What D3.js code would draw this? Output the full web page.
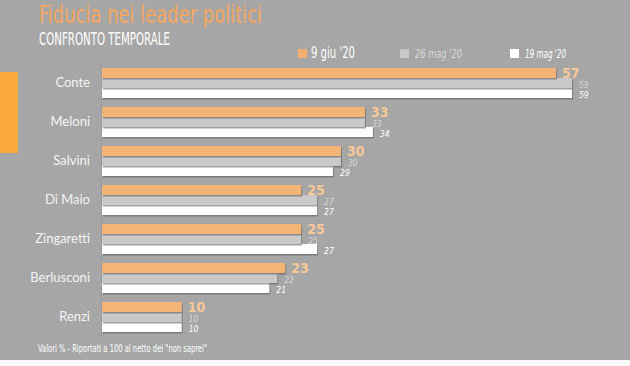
<!DOCTYPE html>
<html>
<head>
<meta charset="utf-8">
<script src="https://cdn.jsdelivr.net/npm/d3@7"></script>
<style>
  body { margin: 0; background: #a6a6a6; }
  svg { display: block; }
  .narrow { font-family: "Liberation Sans Narrow", "DejaVu Sans Condensed", sans-serif; }
</style>
</head>
<body>
<div id="chart"></div>
<script>
const categories = ["Conte", "Meloni", "Salvini", "Di Maio", "Zingaretti", "Berlusconi", "Renzi"];
const giu9 = [57, 33, 30, 25, 25, 23, 10];
const mag26 = [59, 33, 30, 27, 25, 22, 10];
const mag19 = [59, 34, 29, 27, 27, 21, 10];
const seriesNames = ["9 giu '20", "26 mag '20", "19 mag '20"];

const width = 630, height = 366;

const svg = d3.select("#chart").append("svg")
    .attr("width", width)
    .attr("height", height);

svg.append("rect").attr("width", width).attr("height", height).attr("fill", "#a6a6a6");
svg.append("rect").attr("x", 0).attr("y", 360).attr("width", width).attr("height", 6).attr("fill", "#f9f9f9");

// orange accent on the left
svg.append("rect").attr("x", 0).attr("y", 72).attr("width", 18).attr("height", 81).attr("fill", "#f9a93b");

let defs = svg.append("defs");
let f = defs.append("filter").attr("id", "shadow").attr("x", "-5%").attr("y", "-30%").attr("width", "110%").attr("height", "180%");
f.append("feDropShadow").attr("dx", 1).attr("dy", 1.5).attr("stdDeviation", 0.6)
    .attr("flood-color", "#555").attr("flood-opacity", 0.55);

// titles
svg.append("text").attr("class", "narrow")
    .attr("x", 39).attr("y", 23)
    .attr("textLength", 223).attr("lengthAdjust", "spacingAndGlyphs")
    .style("font-size", "24px").attr("fill", "#f5a65e")
    .text("Fiducia nei leader politici");

svg.append("text").attr("class", "narrow")
    .attr("x", 39).attr("y", 45)
    .attr("textLength", 131).attr("lengthAdjust", "spacingAndGlyphs")
    .style("font-size", "17px").attr("fill", "#ffffff")
    .text("CONFRONTO TEMPORALE");

let x = d3.scaleLinear().domain([0, 59]).range([102, 572]);
let y = d3.scaleBand().domain(categories).range([68, 332]).paddingInner(9 / 39);
let ySub = d3.scaleBand().domain([0, 1, 2]).range([0, y.bandwidth()]);

const colors = ["#f4b478", "#c9c9c9", "#ffffff"];
const labelColors = ["#f7c896", "#d6d6d6", "#ffffff"];

// faint axis line
svg.append("line")
    .attr("x1", 101.5).attr("x2", 101.5)
    .attr("y1", 64).attr("y2", 338)
    .attr("stroke", "#9a9a9a").attr("stroke-width", 1);

// category labels
let yAxis = d3.axisLeft(y).tickSize(0).tickPadding(0);
let ya = svg.append("g").attr("transform", "translate(90,0)").call(yAxis);
ya.select(".domain").remove();
ya.selectAll("text")
    .style("font-family", "Lato, sans-serif")
    .style("font-size", "13px")
    .attr("fill", "#f4f4f4");

const series = [giu9, mag26, mag19];
// draw back to front so the upper bar's shadow sits on the lower bar
for (let s = 2; s >= 0; s--) {
    svg.append("g").selectAll("rect")
        .data(series[s])
        .enter()
        .append("rect")
        .attr("x", x(0))
        .attr("y", (d, i) => y(categories[i]) + ySub(s))
        .attr("width", d => x(d) - x(0))
        .attr("height", ySub.bandwidth())
        .attr("fill", colors[s])
        .attr("filter", "url(#shadow)");
}

// value labels
svg.append("g").selectAll("text")
    .data(giu9)
    .enter()
    .append("text")
    .attr("class", "narrow")
    .attr("x", d => x(d) + 6)
    .attr("y", (d, i) => y(categories[i]) + ySub(0) + 9.5)
    .style("font-size", "14px")
    .style("font-weight", "bold")
    .attr("fill", labelColors[0])
    .text(d => d);

[mag26, mag19].forEach((vals, k) => {
    let s = k + 1;
    svg.append("g").selectAll("text")
        .data(vals)
        .enter()
        .append("text")
        .attr("class", "narrow")
        .attr("x", d => x(d) + 7)
        .attr("y", (d, i) => y(categories[i]) + ySub(s) + 9.5)
        .style("font-size", "8.5px")
        .style("font-style", "italic")
        .attr("fill", labelColors[s])
        .text(d => d);
});

// legend
const legendX = [298, 400, 510];
const legendTextLen = [44, 47, 41];
let legend = svg.append("g");
seriesNames.forEach((name, i) => {
    legend.append("rect")
        .attr("x", legendX[i]).attr("y", 49)
        .attr("width", 9).attr("height", 9)
        .attr("fill", i === 0 ? "#f4b070" : colors[i]);
    legend.append("text")
        .attr("class", "narrow")
        .attr("x", legendX[i] + (i === 0 ? 13 : 15))
        .attr("y", 58)
        .attr("textLength", legendTextLen[i]).attr("lengthAdjust", "spacingAndGlyphs")
        .style("font-size", i === 0 ? "15px" : "12.5px")
        .style("font-style", i === 0 ? "normal" : "italic")
        .attr("fill", i === 1 ? "#d8d8d8" : "#ffffff")
        .text(name);
});

// footnote
svg.append("text").attr("class", "narrow")
    .attr("x", 38).attr("y", 352)
    .attr("textLength", 169).attr("lengthAdjust", "spacingAndGlyphs")
    .style("font-size", "10px").attr("fill", "#ffffff")
    .text("Valori % - Riportati a 100 al netto dei \"non saprei\"");
</script>
</body>
</html>
